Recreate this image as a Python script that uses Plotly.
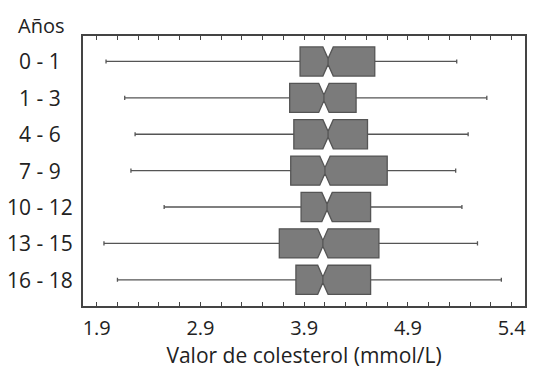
import numpy as np
import plotly.graph_objects as go

categories = ["0 - 1", "1 - 3", "4 - 6", "7 - 9", "10 - 12", "13 - 15", "16 - 18"]
lower_whisker = [1.99, 2.17, 2.27, 2.23, 2.55, 1.97, 2.10]
q1_values = [3.86, 3.76, 3.80, 3.77, 3.87, 3.66, 3.82]
median_values = [4.13, 4.09, 4.13, 4.10, 4.12, 4.08, 4.08]
q3_values = [4.58, 4.40, 4.51, 4.70, 4.54, 4.62, 4.54]
upper_whisker = [5.37, 5.66, 5.48, 5.36, 5.42, 5.57, 5.80]
notch_half = [0.05] * 7

major_tick_values = [1.9, 2.9, 3.9, 4.9, 5.9]
major_tick_labels = ["1.9", "2.9", "3.9", "4.9", "5.4"]

FONT = "Open Sans"
TXT = "#222222"

tickvals = [round(v, 2) for v in np.arange(1.9, 5.95, 0.2)]
ticktext = []
for v in tickvals:
    lab = ""
    for mv, ml in zip(major_tick_values, major_tick_labels):
        if abs(v - mv) < 1e-6:
            lab = ml
    ticktext.append(lab)

fig = go.Figure()
fig.add_trace(go.Box(
    y=categories,
    q1=q1_values,
    median=median_values,
    q3=q3_values,
    lowerfence=lower_whisker,
    upperfence=upper_whisker,
    notched=True,
    notchspan=notch_half,
    notchwidth=0.4,
    orientation="h",
    width=0.8,
    whiskerwidth=0.14,
    fillcolor="#7b7b7b",
    line=dict(color="#555555", width=1.3),
    boxpoints=False,
    showlegend=False,
    hoverinfo="skip",
))

for c in categories:
    fig.add_annotation(
        x=-0.097, xref="paper", y=c, yref="y",
        text=c, showarrow=False, xanchor="center", yanchor="middle",
        font=dict(family=FONT, size=21, color=TXT),
    )
fig.add_annotation(
    x=-0.095, xref="paper", y=1.04, yref="paper",
    text="Años", showarrow=False, xanchor="center", yanchor="middle",
    font=dict(family=FONT, size=20, color=TXT),
)

fig.update_layout(
    width=532, height=361,
    margin=dict(l=75, r=15, t=28, b=63),
    paper_bgcolor="white", plot_bgcolor="white",
    font=dict(family=FONT, size=20, color=TXT),
    xaxis=dict(
        range=[1.768, 6.028],
        tickmode="array", tickvals=tickvals, ticktext=ticktext,
        ticks="inside", ticklen=4, tickwidth=1, tickcolor="#444444",
        ticklabelstandoff=3,
        showline=True, linecolor="#444444", linewidth=1.5, mirror="ticks",
        showgrid=False, zeroline=False,
        tickfont=dict(family=FONT, size=20, color=TXT),
        title=dict(text="Valor de colesterol (mmol/L)", standoff=0,
                   font=dict(family=FONT, size=21, color=TXT)),
    ),
    yaxis=dict(
        type="category",
        categoryorder="array", categoryarray=categories,
        range=[6.72, -0.7],
        showticklabels=False, ticks="",
        showline=True, linecolor="#444444", linewidth=1.5, mirror=True,
        showgrid=False, zeroline=False,
    ),
)

fig.write_html("out.html")
